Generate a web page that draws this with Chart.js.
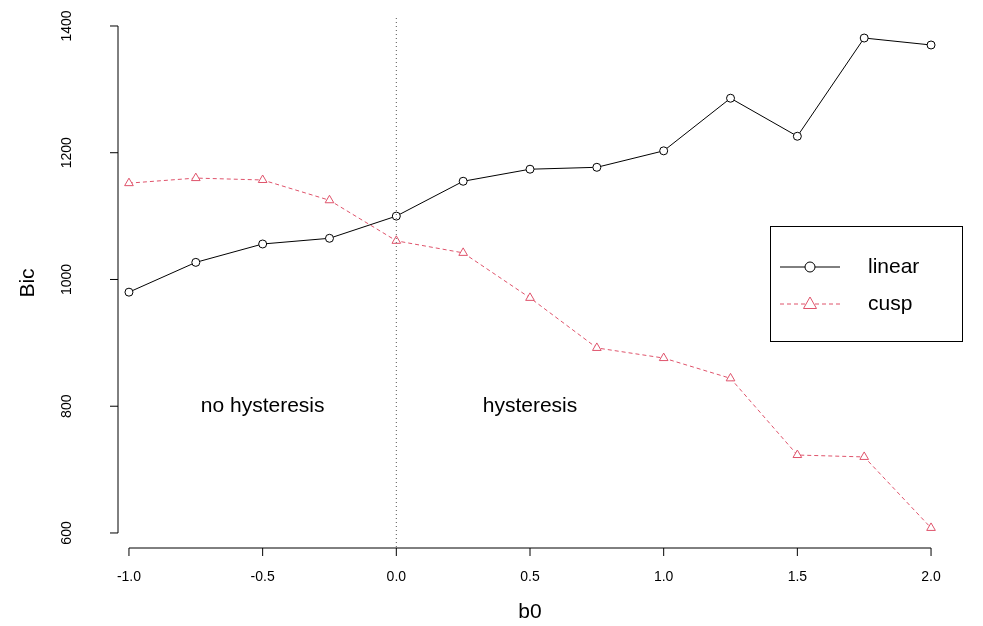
<!DOCTYPE html>
<html><head><meta charset="utf-8">
<script src="https://cdn.jsdelivr.net/npm/chart.js@4"></script>
<style>html,body{margin:0;background:#fff}#w{width:983px;height:626px}</style>
</head><body><div id="w"><canvas id="c"></canvas></div>
<script>
const b0 = [-1.0,-0.75,-0.5,-0.25,0,0.25,0.5,0.75,1.0,1.25,1.5,1.75,2.0];
const linear = [980,1027,1056,1065,1100,1155,1174,1177,1203,1286,1226,1381,1370];
const cusp = [1152,1160,1157,1125,1061,1042,971,892,876,844,723,720,608];
const xTicks = [-1.0,-0.5,0,0.5,1.0,1.5,2.0];
const xTickLabels = ["-1.0","-0.5","0.0","0.5","1.0","1.5","2.0"];
const yTicks = [600,800,1000,1200,1400];
const red = '#DF536B';
const F = '"Liberation Sans", Arial, sans-serif';

const deco = {
  id:'deco',
  afterDraw(ch){
    const c=ch.ctx, x=ch.scales.x, y=ch.scales.y, a=ch.chartArea;
    c.save(); c.strokeStyle='#000'; c.fillStyle='#000'; c.lineWidth=1;
    const ya=a.bottom;
    c.beginPath(); c.moveTo(x.getPixelForValue(xTicks[0]),ya); c.lineTo(x.getPixelForValue(xTicks[xTicks.length-1]),ya);
    xTicks.forEach(t=>{const px=x.getPixelForValue(t); c.moveTo(px,ya); c.lineTo(px,ya+8);}); c.stroke();
    c.font='14px '+F; c.textAlign='center'; c.textBaseline='top';
    xTicks.forEach((t,i)=>c.fillText(xTickLabels[i],x.getPixelForValue(t),ya+22));
    const xa=a.left;
    c.beginPath(); c.moveTo(xa,y.getPixelForValue(yTicks[0])); c.lineTo(xa,y.getPixelForValue(yTicks[yTicks.length-1]));
    yTicks.forEach(t=>{const py=y.getPixelForValue(t); c.moveTo(xa,py); c.lineTo(xa-8,py);}); c.stroke();
    yTicks.forEach(t=>{const py=y.getPixelForValue(t); c.save(); c.translate(67,py); c.rotate(-Math.PI/2); c.textBaseline='middle'; c.fillText(String(t),0,0); c.restore();});
    c.font='21px '+F; c.textBaseline='middle';
    c.fillText('b0',(a.left+a.right)/2,612);
    c.save(); c.translate(28,(a.top+a.bottom)/2); c.rotate(-Math.PI/2); c.fillText('Bic',0,0); c.restore();
    c.save(); c.setLineDash([1,3]); c.strokeStyle='#555'; c.beginPath();
    const vx=x.getPixelForValue(0); c.moveTo(vx,a.top); c.lineTo(vx,a.bottom); c.stroke(); c.restore();
    c.fillText('no hysteresis',x.getPixelForValue(-0.5),y.getPixelForValue(800));
    c.fillText('hysteresis',x.getPixelForValue(0.5),y.getPixelForValue(800));
    c.strokeRect(770.5,226.5,192,115);
    c.beginPath(); c.moveTo(780,267); c.lineTo(840,267); c.stroke();
    c.beginPath(); c.arc(810,267,5,0,2*Math.PI); c.fillStyle='#fff'; c.fill(); c.stroke();
    c.strokeStyle=red; c.setLineDash([4,3]); c.beginPath(); c.moveTo(780,304); c.lineTo(840,304); c.stroke(); c.setLineDash([]);
    c.beginPath(); c.moveTo(810,297); c.lineTo(816.5,308.5); c.lineTo(803.5,308.5); c.closePath(); c.fill(); c.stroke();
    c.fillStyle='#000'; c.textAlign='left'; c.font='21px '+F;
    c.fillText('linear',868,267); c.fillText('cusp',868,304);
    c.restore();
  }
};

new Chart(document.getElementById('c'),{
  type:'line',
  data:{datasets:[
    {data:b0.map((v,i)=>({x:v,y:linear[i]})),borderColor:'#000',borderWidth:1,pointStyle:'circle',pointRadius:4,pointBorderColor:'#000',pointBackgroundColor:'#fff',pointBorderWidth:1},
    {data:b0.map((v,i)=>({x:v,y:cusp[i]})),borderColor:red,borderWidth:1,borderDash:[4,3],pointStyle:'triangle',pointRadius:5,pointBorderColor:red,pointBackgroundColor:'#fff',pointBorderWidth:1}
  ]},
  options:{responsive:true,maintainAspectRatio:false,animation:false,
    layout:{padding:{left:118,right:41,top:18,bottom:78}},
    plugins:{legend:{display:false},tooltip:{enabled:false}},
    scales:{x:{type:'linear',min:-1.041,max:2.041,display:false},y:{min:576.3,max:1412.6,display:false}}},
  plugins:[deco]
});
</script></body></html>
